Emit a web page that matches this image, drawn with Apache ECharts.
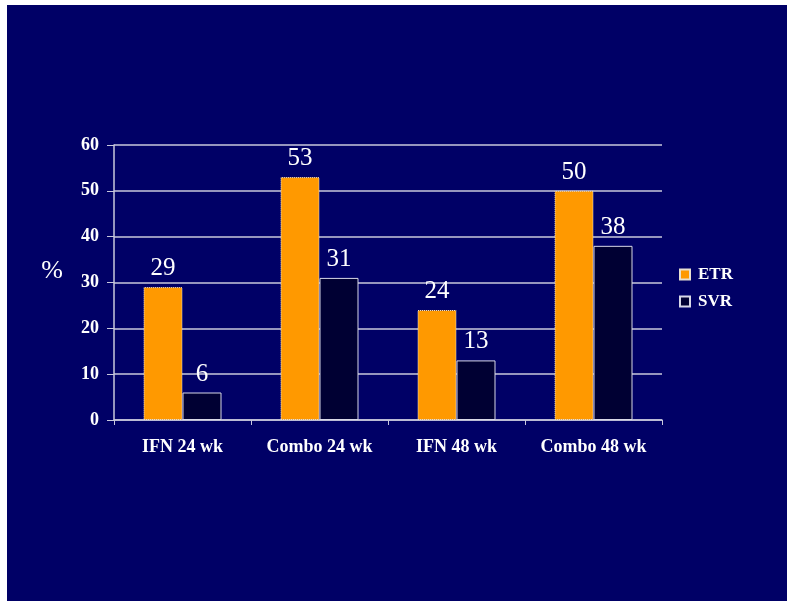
<!DOCTYPE html>
<html>
<head>
<meta charset="utf-8">
<script src="https://cdn.jsdelivr.net/npm/echarts@6/dist/echarts.min.js"></script>
<style>
  html, body { margin: 0; padding: 0; background: #ffffff; }
  #frame { position: absolute; left: 7px; top: 5px; width: 780px; height: 596px; background: #000066; }
  #chart { position: absolute; left: -7px; top: -5px; width: 787px; height: 601px; }
</style>
</head>
<body>
<div id="frame"><div id="chart"></div></div>
<script>
// Treatment groups and response rates (%)
const categories = ['IFN 24 wk', 'Combo 24 wk', 'IFN 48 wk', 'Combo 48 wk'];
const etrValues = [29, 53, 24, 50];
const svrValues = [6, 31, 13, 38];
const yTicks = [0, 10, 20, 30, 40, 50, 60];

const serif = '"Liberation Serif", "Times New Roman", serif';
const lineColor = '#c8c8dc';

const chart = echarts.init(document.getElementById('chart'), null, { renderer: 'canvas' });

const valueLabel = {
  show: true,
  position: 'top',
  distance: 6,
  color: '#ffffff',
  fontFamily: serif,
  fontSize: 25
};

chart.setOption({
  backgroundColor: 'transparent',
  animation: false,
  grid: { left: 114, right: 125, top: 145, bottom: 181 },
  legend: {
    orient: 'vertical',
    left: 674,
    top: 261,
    itemWidth: 10,
    itemHeight: 10,
    itemGap: 10,
    icon: 'rect',
    textStyle: { color: '#ffffff', fontFamily: serif, fontWeight: 'bold', fontSize: 17, padding: [0, 0, 0, 3] },
    data: ['ETR', 'SVR']
  },
  xAxis: {
    type: 'category',
    data: categories,
    axisLine: { show: true, lineStyle: { color: lineColor, width: 1.5 } },
    axisTick: { show: true, interval: 0, length: 5, lineStyle: { color: lineColor } },
    axisLabel: { interval: 0, hideOverlap: false, color: '#ffffff', fontFamily: serif, fontWeight: 'bold', fontSize: 18, margin: 18 }
  },
  yAxis: {
    type: 'value',
    min: yTicks[0],
    max: yTicks[yTicks.length - 1],
    interval: 10,
    name: '%',
    nameLocation: 'middle',
    nameRotate: 0,
    nameGap: 51,
    nameTextStyle: { color: '#ffffff', fontFamily: serif, fontSize: 26, verticalAlign: 'bottom', lineHeight: 22 },
    axisLine: { show: true, lineStyle: { color: lineColor, width: 1.5 } },
    axisTick: { show: true, length: 7, inside: false, lineStyle: { color: lineColor } },
    axisLabel: { color: '#ffffff', fontFamily: serif, fontWeight: 'bold', fontSize: 18, margin: 15 },
    splitLine: { show: true, lineStyle: { color: lineColor, width: 1.5 } }
  },
  series: [
    {
      name: 'ETR',
      type: 'bar',
      data: etrValues,
      barWidth: 39,
      barGap: '0%',
      itemStyle: { color: '#ff9900', borderColor: '#e8e0d0', borderWidth: 1, borderType: [1, 1] },
      label: valueLabel
    },
    {
      name: 'SVR',
      type: 'bar',
      data: svrValues,
      barWidth: 39,
      barGap: '0%',
      itemStyle: { color: '#000033', borderColor: '#d8d8e8', borderWidth: 1 },
      label: valueLabel
    }
  ]
});
</script>
</body>
</html>
